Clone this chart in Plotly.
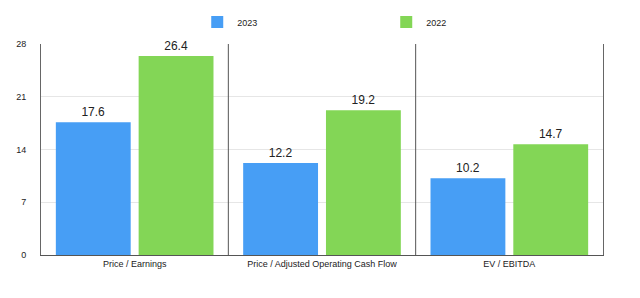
import plotly.graph_objects as go

categories = ["Price / Earnings", "Price / Adjusted Operating Cash Flow", "EV / EBITDA"]
values_2023 = [17.6, 12.2, 10.2]
values_2022 = [26.4, 19.2, 14.7]
tick_vals = [0, 7, 14, 21, 28]

FONT = "Liberation Sans, Arial, Helvetica, sans-serif"

fig = go.Figure()
fig.add_trace(go.Bar(name="2023", x=categories, y=values_2023, marker_color="#479ef5",
                     marker_line_width=0, text=[f"{v:.1f}" for v in values_2023],
                     textposition="outside", cliponaxis=False,
                     textfont=dict(size=12, color="#222222", family=FONT)))
fig.add_trace(go.Bar(name="2022", x=categories, y=values_2022, marker_color="#83d656",
                     marker_line_width=0, text=[f"{v:.1f}" for v in values_2022],
                     textposition="outside", cliponaxis=False,
                     textfont=dict(size=12, color="#222222", family=FONT)))

for xv in [0.5, 1.5]:
    fig.add_shape(type="line", x0=xv, x1=xv, y0=0, y1=1, xref="x", yref="paper",
                  line=dict(color="#555555", width=1))

fig.update_layout(
    width=640, height=298,
    margin=dict(l=41, r=37, t=44, b=43, autoexpand=False),
    paper_bgcolor="white", plot_bgcolor="white",
    barmode="group", bargap=0.116, bargroupgap=0.096,
    font=dict(family=FONT, size=9, color="#222222"),
    legend=dict(orientation="h", x=0.278, xanchor="left", yref="container",
                y=1 - 22 / 298, yanchor="middle",
                entrywidth=144, font=dict(size=9), itemclick=False),
    xaxis=dict(showline=True, linecolor="#555555", linewidth=1, ticks="",
               tickfont=dict(size=9), showgrid=False),
    yaxis=dict(range=[0, 28], tickvals=tick_vals, showgrid=True, gridcolor="#e6e6e6",
               showline=True, linecolor="#666666", linewidth=1, mirror=True,
               zeroline=False, tickfont=dict(size=9), ticks="", ticklabelstandoff=12),
)
fig.write_html("out.html")
